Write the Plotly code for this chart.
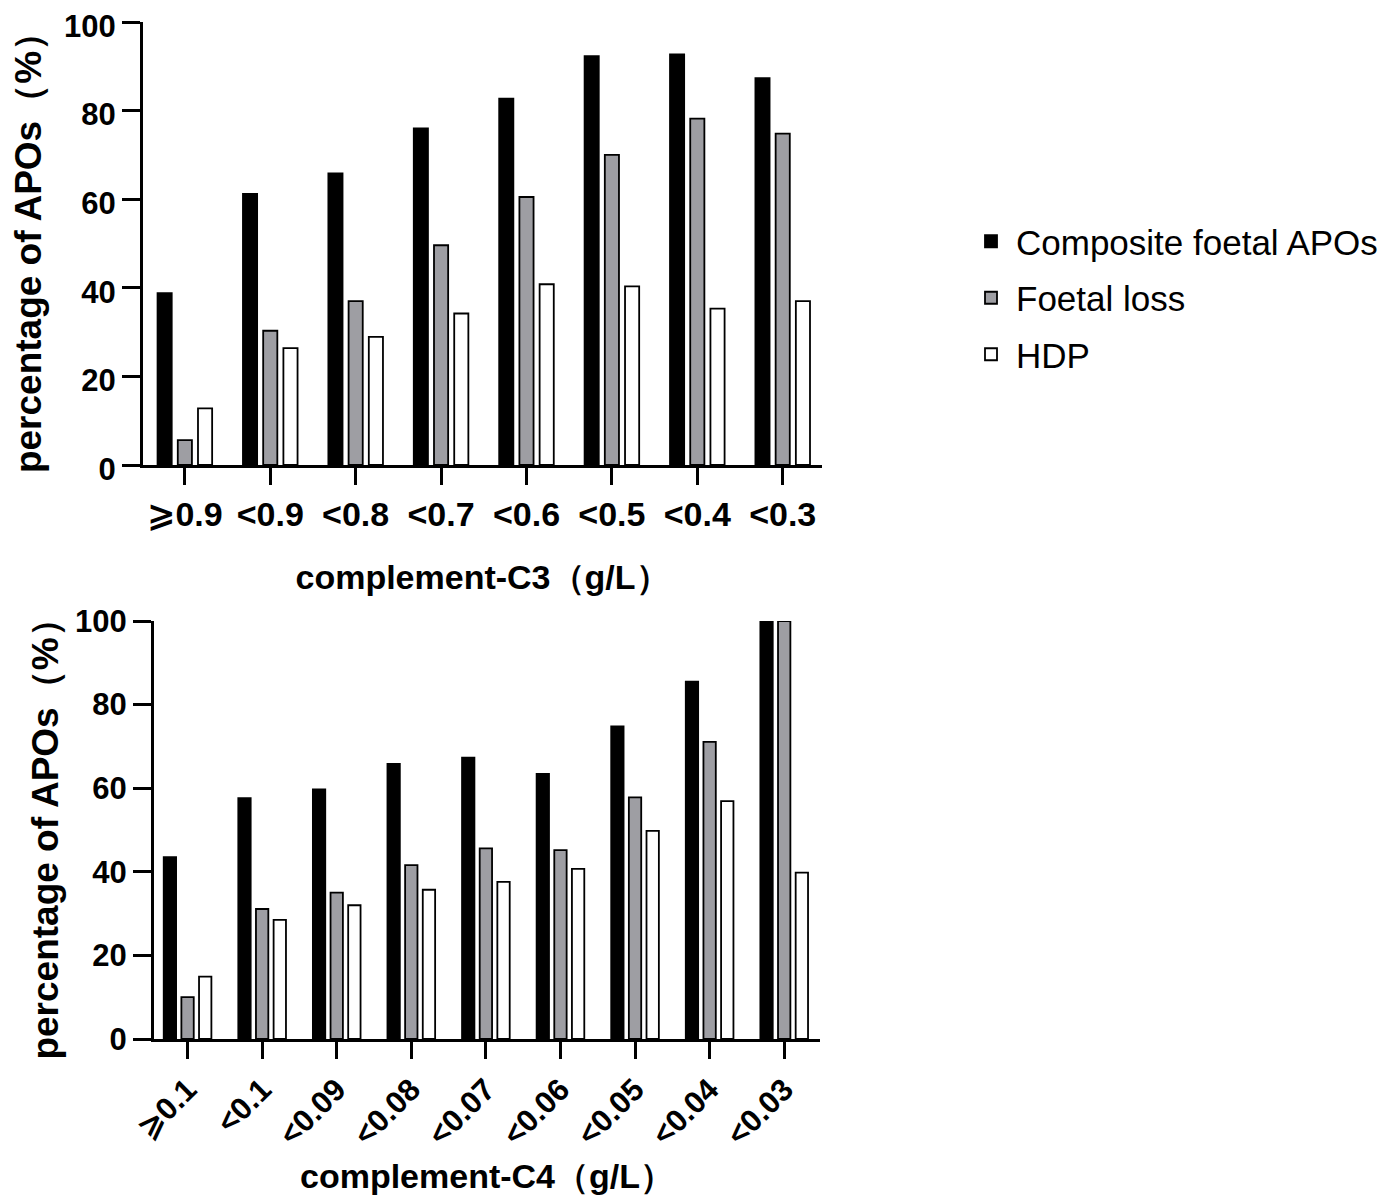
import plotly.graph_objects as go

c3_labels = ["⩾0.9", "<0.9", "<0.8", "<0.7", "<0.6", "<0.5", "<0.4", "<0.3"]
c3_composite = [38.8, 61.2, 65.8, 76.0, 82.7, 92.3, 92.7, 87.3]
c3_loss = [5.6, 30.3, 37.0, 49.6, 60.5, 70.0, 78.2, 74.8]
c3_hdp = [12.8, 26.4, 28.9, 34.2, 40.8, 40.3, 35.3, 37.0]

c4_labels = ["⩾0.1", "<0.1", "<0.09", "<0.08", "<0.07", "<0.06", "<0.05", "<0.04", "<0.03"]
c4_composite = [43.5, 57.6, 59.7, 65.8, 67.3, 63.4, 74.8, 85.5, 100.0]
c4_loss = [10.0, 31.1, 35.0, 41.6, 45.6, 45.2, 57.8, 71.1, 100.0]
c4_hdp = [14.9, 28.5, 32.0, 35.7, 37.6, 40.7, 49.8, 56.9, 39.8]

y_ticks = [0, 20, 40, 60, 80, 100]

series_names = ["Composite foetal APOs", "Foetal loss", "HDP"]
series_colors = ["#000000", "#9e9ea3", "#ffffff"]

FONT = "Liberation Sans, Arial, DejaVu Sans, sans-serif"

fig = go.Figure()

for i, (name, col, vals) in enumerate(zip(series_names, series_colors, [c3_composite, c3_loss, c3_hdp])):
    fig.add_trace(go.Bar(x=list(range(len(c3_labels))), y=vals, name=name,
                         marker=dict(color=col, line=dict(color="#000000", width=1.8)),
                         xaxis="x", yaxis="y", legendgroup=name, offsetgroup=str(i)))
for i, (name, col, vals) in enumerate(zip(series_names, series_colors, [c4_composite, c4_loss, c4_hdp])):
    fig.add_trace(go.Bar(x=list(range(len(c4_labels))), y=vals, name=name, showlegend=False,
                         marker=dict(color=col, line=dict(color="#000000", width=1.8)),
                         xaxis="x2", yaxis="y2", legendgroup=name, offsetgroup=str(i)))

# page body has an 8px margin: figure is drawn at (8, 8) of the window
OFF = 8
W, H = 1400 - 2 * OFF, 1203 - 2 * OFF
def xd(a, b):
    return [(a - OFF) / W, (b - OFF) / W]
def yd(top, bottom):
    return [1 - (bottom - OFF) / H, 1 - (top - OFF) / H]

ytickfont = dict(family=FONT, size=31, color="#000000", weight="bold")
xtickfont = dict(family=FONT, size=34, color="#000000", weight="bold")
xtickfont2 = dict(family=FONT, size=31, color="#000000", weight="bold")
xtitlefont = dict(family=FONT, size=34, color="#000000", weight="bold")
ytitlefont = dict(family=FONT, size=37, color="#000000", weight="bold")

axis_common = dict(showgrid=False, zeroline=False, showline=True, linecolor="#000000",
                   linewidth=3, ticks="outside", tickwidth=3, tickcolor="#000000",
                   automargin=False, ticklabeloverflow="allow")

fig.update_layout(
    width=W, height=H,
    paper_bgcolor="#ffffff", plot_bgcolor="#ffffff",
    margin=dict(l=0, r=0, t=0, b=0),
    barmode="group", bargap=0.29, bargroupgap=0.3,
    showlegend=True,
    legend=dict(x=(966 - OFF) / W, y=1 - (212 - OFF) / H, xanchor="left", yanchor="top",
                font=dict(family=FONT, size=35, color="#000000"),
                tracegroupgap=8, itemwidth=40, bgcolor="rgba(0,0,0,0)"),
    xaxis=dict(domain=xd(143, 822), anchor="y", range=[-0.49, 7.46],
               tickmode="array", tickvals=list(range(len(c3_labels))), ticktext=c3_labels,
               ticklen=17, tickangle=0, tickfont=xtickfont,
               title=dict(text="complement-C3（g/L）", font=xtitlefont, standoff=34),
               **axis_common),
    yaxis=dict(domain=yd(22, 465), anchor="x", range=[0, 100],
               tickmode="array", tickvals=y_ticks, ticklen=18, tickfont=ytickfont,
               ticklabelshift=4,
               title=dict(text="percentage of APOs（%）", font=ytitlefont, standoff=19),
               **axis_common),
    xaxis2=dict(domain=xd(154, 820), anchor="y2", range=[-0.45, 8.48],
                tickmode="array", tickvals=list(range(len(c4_labels))), ticktext=c4_labels,
                ticklen=17, tickangle=-45, tickfont=xtickfont2,
                title=dict(text="complement-C4（g/L）", font=xtitlefont, standoff=40),
                **axis_common),
    yaxis2=dict(domain=yd(621, 1039), anchor="x2", range=[0, 100],
                tickmode="array", tickvals=y_ticks, ticklen=18, tickfont=ytickfont,
                title=dict(text="percentage of APOs（%）", font=ytitlefont, standoff=6),
                **axis_common),
)

fig.write_html("out.html")
